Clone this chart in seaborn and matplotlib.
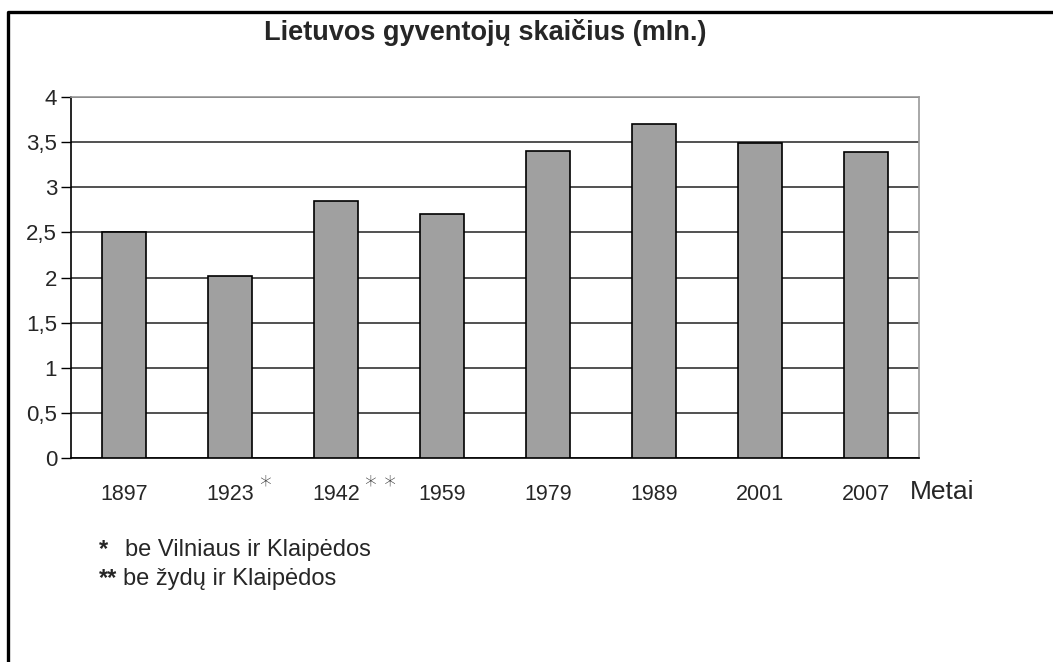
import pandas as pd
import numpy as np
import matplotlib.pyplot as plt
import seaborn as sb
from matplotlib.lines import Line2D
from matplotlib.transforms import blended_transform_factory

years = ["1897", "1923", "1942", "1959", "1979", "1989", "2001", "2007"]
population = [2.50, 2.02, 2.85, 2.70, 3.40, 3.70, 3.49, 3.39]
y_ticks = [0, 0.5, 1, 1.5, 2, 2.5, 3, 3.5, 4]
y_labels = ["0", "0,5", "1", "1,5", "2", "2,5", "3", "3,5", "4"]
marks = {"1923": "*", "1942": "* *"}

sb.set_style("white")
plt.rcParams['font.family'] = ['Liberation Sans', 'DejaVu Sans']

df = pd.DataFrame({"Metai": years, "Gyventojai": population})

W, H = 1053, 662
fig = plt.figure(figsize=(W / 100, H / 100), dpi=100)
ax = fig.add_axes([71 / W, 1 - 458 / H, (919 - 71) / W, (458 - 97) / H])

sb.barplot(data=df, x="Metai", y="Gyventojai", color="#a0a0a0", saturation=1,
           edgecolor="black", linewidth=1.2, width=0.41, ax=ax, zorder=3)

ax.set_xlim(-0.5, len(years) - 0.5)
ax.set_ylim(0, 4)
ax.set_yticks(y_ticks)
ax.set_yticklabels(y_labels, fontsize=16)
ax.yaxis.grid(True, color="#222222", linewidth=1.1, zorder=0)
ax.set_axisbelow(True)

ax.set_xticks(range(len(years)))
ax.set_xticklabels(years, fontsize=15.5)
ax.set_xticks(np.arange(-0.5, len(years)), minor=True)
ax.tick_params(axis="x", which="major", length=0, pad=19)
ax.tick_params(axis="x", which="minor", length=7, width=1, color="black", direction="out")
ax.tick_params(axis="y", length=7, width=1, color="black", direction="out", left=True, pad=3)
ax.set_xlabel("")
ax.set_ylabel("")

for s in ["left", "bottom"]:
    ax.spines[s].set_color("black")
    ax.spines[s].set_linewidth(1.2)
for s in ["top", "right"]:
    ax.spines[s].set_color("#9a9a9a")
    ax.spines[s].set_linewidth(1.2)

# asterisks beside tick labels
tr = blended_transform_factory(ax.transData, fig.transFigure)
for i, y in enumerate(years):
    if y in marks:
        ax.text(i + 0.27, 1 - 486 / H, marks[y], fontsize=17, family="DejaVu Sans",
                fontweight="light", ha="left", va="center", color="#333333",
                transform=tr)

fig.text(910 / W, 1 - 492 / H, "Metai", fontsize=19, ha="left", va="center")
fig.text(485 / W, 1 - 32 / H, "Lietuvos gyventojų skaičius (mln.)", fontsize=19.5,
         fontweight="bold", ha="center", va="center")

fig.text(99 / W, 1 - 550 / H, "*", fontsize=17, fontweight="bold", ha="left", va="center")
fig.text(125 / W, 1 - 550 / H, "be Vilniaus ir Klaipėdos", fontsize=17, ha="left", va="center")
fig.text(99 / W, 1 - 579 / H, "**", fontsize=17, fontweight="bold", ha="left", va="center")
fig.text(123 / W, 1 - 579 / H, "be žydų ir Klaipėdos", fontsize=17, ha="left", va="center")

# outer frame (cut off at the right and bottom)
fig.add_artist(Line2D([8 / W, 8 / W, 1.0], [0.0, 1 - 12 / H, 1 - 12 / H],
                      transform=fig.transFigure, color="black", linewidth=2.4))

fig.savefig("out.png", dpi=100)
